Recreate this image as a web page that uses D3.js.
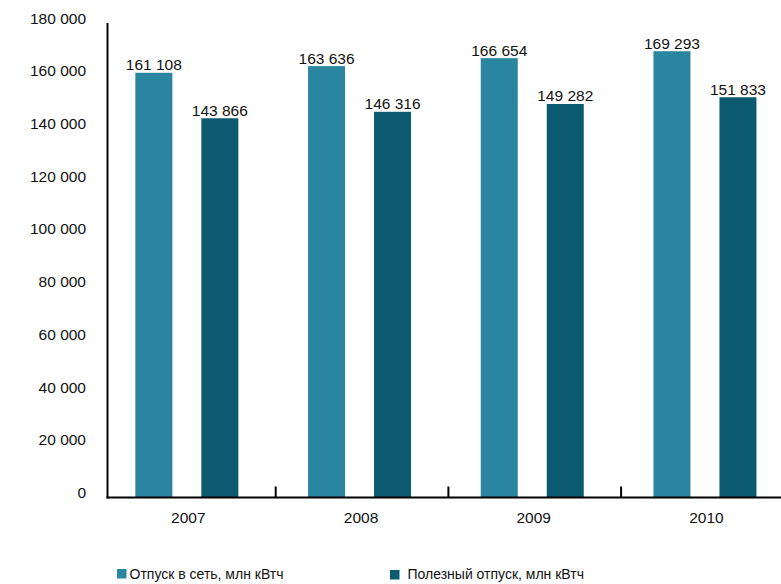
<!DOCTYPE html>
<html><head><meta charset="utf-8">
<script src="https://cdn.jsdelivr.net/npm/d3@7/dist/d3.min.js"></script>
<style>
html,body{margin:0;padding:0;background:#fff;}
svg{display:block;font-family:"Liberation Sans",Arial,sans-serif;}
</style></head>
<body>
<svg id="chart" width="781" height="584"></svg>
<script>
const categories = ["2007", "2008", "2009", "2010"];
const seriesNames = ["Отпуск в сеть, млн кВтч", "Полезный отпуск, млн кВтч"];
const seriesSupply = [161108, 163636, 166654, 169293];
const seriesUseful = [143866, 146316, 149282, 151833];
const yTicks = [0, 20000, 40000, 60000, 80000, 100000, 120000, 140000, 160000, 180000];
const colors = ["#2a85a0", "#0c5a6f"];

const svg = d3.select("#chart");
const x0 = d3.scaleBand().domain(categories).range([100.5, 100.5 + 4 * 172.7]).padding(0);
const x1 = d3.scaleBand().domain([0, 1]).range([0, x0.bandwidth()]).paddingInner(29 / 66).paddingOuter(0.528);
const y = d3.scaleLinear().domain([0, 180000]).range([497.5, 23]);
const fmt = v => d3.format(",")(v).replace(/,/g, " ");

// y tick labels
svg.append("g").selectAll("text").data(yTicks).join("text")
  .attr("x", 86).attr("y", d => y(d) + 0.5)
  .attr("text-anchor", "end").attr("font-size", 15.5).attr("fill", "#111")
  .text(d => fmt(d));

const series = [seriesSupply, seriesUseful];
const g = svg.append("g");
categories.forEach((c, i) => {
  series.forEach((s, j) => {
    const bx = x0(c) + x1(j);
    g.append("rect").attr("x", bx).attr("y", y(s[i]))
      .attr("width", x1.bandwidth()).attr("height", y(0) - y(s[i]))
      .attr("fill", colors[j]);
    g.append("text").attr("x", bx + x1.bandwidth() / 2).attr("y", y(s[i]) - 2.5)
      .attr("text-anchor", "middle").attr("font-size", 15.5).attr("fill", "#111")
      .text(fmt(s[i]));
  });
});

// axes
svg.append("line").attr("x1", 107.5).attr("x2", 107.5).attr("y1", y(180000)).attr("y2", y(0) + 1)
  .attr("stroke", "#000").attr("stroke-width", 2);
svg.append("line").attr("x1", 106.5).attr("x2", 781).attr("y1", y(0)).attr("y2", y(0))
  .attr("stroke", "#000").attr("stroke-width", 2);
svg.append("g").selectAll("line").data(categories.slice(1)).join("line")
  .attr("x1", d => x0(d) + 2.5).attr("x2", d => x0(d) + 2.5)
  .attr("y1", y(0)).attr("y2", y(0) - 11)
  .attr("stroke", "#000").attr("stroke-width", 2);
svg.append("g").selectAll("text").data(categories).join("text")
  .attr("x", d => x0(d) + x0.bandwidth() / 2 + 1.5).attr("y", 523)
  .attr("text-anchor", "middle").attr("font-size", 15.5).attr("fill", "#111")
  .text(d => d);

// legend
const legX = [117, 390];
const leg = svg.append("g");
seriesNames.forEach((n, j) => {
  leg.append("rect").attr("x", legX[j]).attr("y", 569 + j).attr("width", 9.5).attr("height", 9.5).attr("fill", colors[j]);
  leg.append("text").attr("x", legX[j] + 12.5 + j * 5).attr("y", 578.5)
    .attr("font-size", 14).attr("fill", "#111").text(n);
});
</script>
</body></html>
